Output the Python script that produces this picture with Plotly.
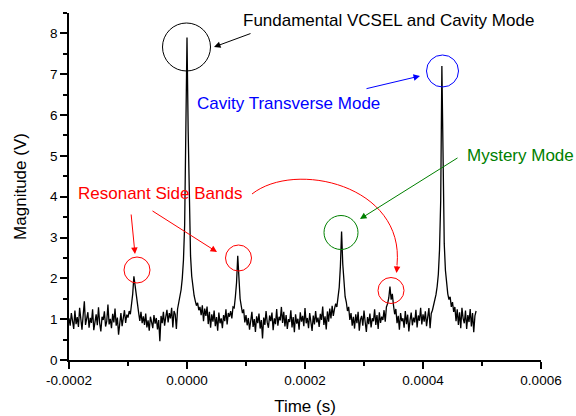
import numpy as np
import plotly.graph_objects as go

# ---- data ----
t_start = -0.0002          # s, first sample
t_step = 2e-6              # s, sample spacing
magnitude = [
    1.02, 0.84, 1.15, 0.93, 0.76, 1.21, 0.88, 1.05, 0.81, 1.28,
    0.94, 0.74, 1.10, 1.44, 0.86, 0.99, 1.17, 0.79, 1.03, 0.91,
    1.24, 0.73, 0.97, 1.12, 0.85, 1.29, 0.90, 0.70, 1.06, 0.98,
    1.19, 0.82, 0.95, 1.36, 0.87, 1.01, 0.78, 1.13, 0.92, 1.26,
    0.84, 1.04, 0.62, 0.99, 1.15, 0.83, 1.08, 1.22, 0.91, 1.11,
    # side band 1
    1.04, 1.20, 1.12, 1.35, 1.62, 2.05, 1.82, 1.48, 1.30, 1.16,
    0.96, 1.18, 0.90,
    1.07, 0.86, 1.14, 0.80, 0.97, 0.72, 1.06, 0.93, 0.78, 1.10,
    0.89, 1.03, 0.75, 0.98, 0.46, 1.08, 0.90, 1.18, 0.84, 1.05,
    1.23, 0.92, 1.15, 1.02, 1.28, 0.80, 1.20, 1.12,
    # fundamental
    0.76, 1.25, 1.40, 1.55, 1.72, 2.00, 2.45, 3.30, 5.20, 7.90,
    5.60, 3.50, 2.55, 2.05, 1.75, 1.58, 1.45, 1.33, 1.40, 1.22,
    1.30, 1.10,
    1.34, 0.95, 1.26, 1.08, 1.31, 0.88, 1.18, 0.79, 1.12, 0.94,
    1.21, 0.83, 1.05, 0.72, 1.16, 0.90, 1.02, 0.78, 1.10, 0.95,
    1.24, 0.87, 1.15, 1.06,
    # side band 2
    1.20, 1.02, 1.30, 1.28, 1.55, 1.90, 2.55, 1.85, 1.50, 1.32,
    1.15, 1.24, 0.92,
    1.10, 0.85, 1.03, 0.74, 0.96, 1.18, 0.81, 1.00, 0.69, 1.07,
    0.90, 1.14, 0.77, 0.98, 0.53, 1.04, 0.86, 1.20, 0.92, 0.79,
    1.09, 0.95, 1.16, 0.73, 1.02, 0.88, 1.25, 0.84, 1.06, 0.97,
    1.30, 0.91, 1.18, 0.82, 1.10, 0.76, 1.00, 0.93, 1.22, 0.80,
    1.05, 0.68, 1.12, 0.89, 1.01, 0.74, 1.17, 0.94, 1.08, 0.83,
    1.27, 0.90, 1.03, 0.78, 1.15, 0.96, 0.71, 1.09, 0.87, 1.20,
    0.92, 1.04, 0.81, 1.13, 0.98, 1.31, 0.86, 1.07, 0.75, 1.19,
    0.94, 1.26, 1.02, 1.33, 1.08,
    # mystery mode
    1.25, 1.38, 1.30, 1.52, 1.78, 2.30, 3.15, 2.35, 1.85, 1.55,
    1.42, 1.20, 1.30, 0.98, 1.15, 0.84,
    1.06, 0.77, 1.12, 0.90, 1.18, 0.72, 0.99, 1.08, 0.84, 1.21,
    0.93, 0.69, 1.05, 0.88, 1.14, 0.80, 1.02, 0.95, 1.24, 0.86,
    1.10, 0.76, 1.17, 0.91, 1.06, 0.98,
    # side band 3
    1.22, 0.94, 1.30, 1.38, 1.52, 1.80, 1.48, 1.62, 1.34, 1.12,
    1.25,
    0.90, 1.08, 0.74, 1.15, 0.95, 1.02, 0.79, 1.20, 0.88, 1.11,
    0.70, 0.97, 1.16, 0.85, 1.04, 0.92, 1.23, 0.80, 1.09, 0.96,
    1.28, 0.87, 1.12, 0.94, 1.19, 0.83, 1.05, 1.27, 0.78, 1.14,
    # cavity transverse mode
    1.22, 1.35, 1.45, 1.60, 1.80, 2.10, 2.70, 3.90, 7.20, 4.30,
    2.85, 2.20, 1.85, 1.62, 1.48, 1.55, 1.30, 1.42, 1.18,
    1.30, 0.95, 1.24, 0.86, 1.17, 0.78, 1.28, 1.02, 0.90, 1.21,
    0.76, 1.10, 0.93, 1.25, 0.82, 1.15, 0.68, 1.08, 1.20,
]
time = t_start + t_step * np.arange(len(magnitude))

x_tickvals = [-0.0002, 0.0, 0.0002, 0.0004, 0.0006]
x_ticktext = ["-0.0002", "0.0000", "0.0002", "0.0004", "0.0006"]
y_tickvals = [0, 1, 2, 3, 4, 5, 6, 7, 8]

# ---- layout geometry (pixels) ----
W, H = 576, 416
L, R, T, B = 69, 35, 13, 56
XR = [-0.0002, 0.0006]
YR = [0, 8.5]
PW, PH = W - L - R, H - T - B


def dx(px):
    return XR[0] + (px - L) / PW * (XR[1] - XR[0])


def dy(py):
    return YR[0] + (H - B - py) / PH * (YR[1] - YR[0])


def paper_x(px):
    return (px - L) / PW


def paper_y(py):
    return (H - B - py) / PH


FONT = "Liberation Sans, Arial, sans-serif"
RED, BLUE, GREEN, BLACK = "#ff0000", "#0000ff", "#008000", "#000000"

fig = go.Figure()
fig.add_trace(go.Scatter(x=time, y=magnitude, mode="lines",
                         line=dict(color="black", width=1.3), showlegend=False))

axis_common = dict(showline=True, linecolor="black", linewidth=1.5,
                   ticks="outside", ticklen=7, tickwidth=1.5, tickcolor="black",
                   showgrid=False, zeroline=False, mirror=False, automargin=False,
                   tickfont=dict(family=FONT, size=13.5, color="black"))

fig.update_layout(
    width=W, height=H, autosize=False,
    margin=dict(l=L, r=R, t=T, b=B, pad=0),
    paper_bgcolor="white", plot_bgcolor="white",
    font=dict(family=FONT, color="black"),
    xaxis=dict(range=XR, tickvals=x_tickvals, ticktext=x_ticktext,
               minor=dict(ticks="outside", ticklen=4, tickwidth=1.5, dtick=0.0001,
                          tickcolor="black", showgrid=False),
               title=dict(text="Time (s)", font=dict(family=FONT, size=17), standoff=16),
               **axis_common),
    yaxis=dict(range=YR, tickvals=y_tickvals,
               minor=dict(ticks="outside", ticklen=4, tickwidth=1.5, dtick=0.5,
                          tickcolor="black", showgrid=False),
               title=dict(text="Magnitude (V)", font=dict(family=FONT, size=17), standoff=19),
               **axis_common),
)

# circles (center px, radius px, color)
circles = [
    (186.5, 47, 24, BLACK),
    (442.5, 71, 16, BLUE),
    (341, 232.5, 17, GREEN),
    (137, 270, 13, RED),
    (238.5, 258, 13, RED),
    (391, 290.5, 13, RED),
]
for cx, cy, r, col in circles:
    fig.add_shape(type="circle", xref="x", yref="y",
                  xsizemode="pixel", ysizemode="pixel",
                  xanchor=dx(cx), yanchor=dy(cy),
                  x0=-r, x1=r, y0=-r, y1=r,
                  line=dict(color=col, width=1))

# curved red arrow body
P = [(252, 194), (295, 160), (405, 185), (397, 265)]
path = "M {:.5f},{:.5f} C {:.5f},{:.5f} {:.5f},{:.5f} {:.5f},{:.5f}".format(
    *[v for p in P for v in (paper_x(p[0]), paper_y(p[1]))])
fig.add_shape(type="path", xref="paper", yref="paper", path=path,
              line=dict(color=RED, width=1))

# straight arrows: (tail px, tip px, color)
arrows = [
    ((252, 33), (214, 47), BLACK),
    ((365, 89), (420, 76), BLUE),
    ((459, 157), (360, 219), GREEN),
    ((131, 213), (135, 254), RED),
    ((151, 210), (217, 252), RED),
    ((397.3, 264), (396.5, 273), RED),
]
for (tx, ty), (hx, hy), col in arrows:
    fig.add_annotation(x=dx(hx), y=dy(hy), xref="x", yref="y",
                       ax=tx - hx, ay=ty - hy, axref="pixel", ayref="pixel",
                       text="", showarrow=True, arrowhead=2, arrowsize=1.3,
                       arrowwidth=1, arrowcolor=col, standoff=0, startstandoff=0)

# labels: (text, center px, color)
labels = [
    ("Fundamental VCSEL and Cavity Mode", (388, 20), BLACK),
    ("Cavity Transverse Mode", (288, 103), BLUE),
    ("Mystery Mode", (520, 155), GREEN),
    ("Resonant Side Bands", (160, 193), RED),
]
for txt, (cx, cy), col in labels:
    fig.add_annotation(x=paper_x(cx), y=paper_y(cy), xref="paper", yref="paper",
                       text=txt, showarrow=False, xanchor="center", yanchor="middle",
                       font=dict(family=FONT, size=17, color=col))

fig.write_html("out.html")
